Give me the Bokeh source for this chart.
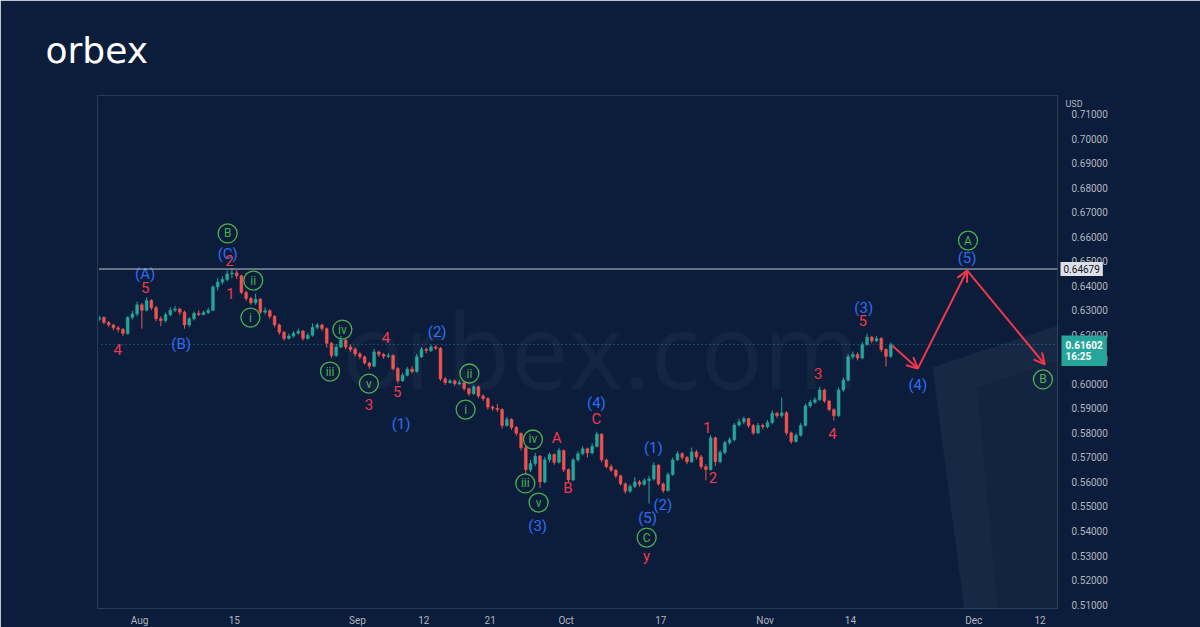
import numpy as np
from bokeh.plotting import figure
from bokeh.models import (Range1d, FixedTicker, Span, Label, Arrow, OpenHead,
                          PolyAnnotation, NumeralTickFormatter, ColumnDataSource)
from bokeh.core.properties import value
from bokeh.embed import file_html
from bokeh.resources import INLINE

# ---------------- data ----------------
BASE_DATE = "2022-08-01"        # business-day index 0
FIRST_BAR_DATE = "2022-07-25"   # first half-day bar
BARS_PER_DAY = 2
first_open = 0.6255

closes = [
    0.6262, 0.6270, 0.6250, 0.6240, 0.6228, 0.6222, 0.6205, 0.6270, 0.6285, 0.6322,
    0.6300, 0.6340, 0.6310, 0.6265, 0.6258, 0.6282, 0.6300, 0.6305, 0.6292, 0.6240,
    0.6265, 0.6287, 0.6282, 0.6290, 0.6300, 0.6395, 0.6415, 0.6425, 0.6448, 0.6452,
    0.6440, 0.6372, 0.6348, 0.6330, 0.6345, 0.6292, 0.6298, 0.6275, 0.6240, 0.6210,
    0.6185, 0.6195, 0.6206, 0.6215, 0.6185, 0.6198, 0.6230, 0.6240, 0.6225, 0.6165,
    0.6115, 0.6150, 0.6178, 0.6150, 0.6140, 0.6122, 0.6110, 0.6085, 0.6072, 0.6130,
    0.6120, 0.6112, 0.6115, 0.6062, 0.6012, 0.6035, 0.6060, 0.6050, 0.6110, 0.6140,
    0.6135, 0.6150, 0.6145, 0.6020, 0.6005, 0.6012, 0.6000, 0.6005, 0.5980, 0.5960,
    0.5988, 0.5950, 0.5940, 0.5905, 0.5900, 0.5895, 0.5830, 0.5855, 0.5822, 0.5798,
    0.5740, 0.5650, 0.5675, 0.5705, 0.5600, 0.5690, 0.5712, 0.5680, 0.5728, 0.5650,
    0.5608, 0.5690, 0.5715, 0.5735, 0.5718, 0.5745, 0.5795, 0.5690, 0.5662, 0.5648,
    0.5625, 0.5592, 0.5562, 0.5582, 0.5600, 0.5590, 0.5605, 0.5612, 0.5668, 0.5592,
    0.5565, 0.5630, 0.5690, 0.5715, 0.5700, 0.5682, 0.5722, 0.5702, 0.5662, 0.5650,
    0.5780, 0.5682, 0.5720, 0.5760, 0.5772, 0.5832, 0.5845, 0.5858, 0.5830, 0.5800,
    0.5830, 0.5825, 0.5842, 0.5880, 0.5870, 0.5882, 0.5800, 0.5765, 0.5790, 0.5830,
    0.5910, 0.5925, 0.5935, 0.5975, 0.5930, 0.5895, 0.5870, 0.5975, 0.6015, 0.6110,
    0.6120, 0.6105, 0.6160, 0.6190, 0.6175, 0.6185, 0.6140, 0.6112,
    0.6160,
]
highs = [
    0.6272, 0.6278, 0.6275, 0.6256, 0.6245, 0.6236, 0.6228, 0.6276, 0.6298, 0.6335,
    0.6330, 0.6352, 0.6345, 0.6318, 0.6275, 0.6290, 0.6312, 0.6318, 0.6310, 0.6298,
    0.6272, 0.6295, 0.6300, 0.6298, 0.6310, 0.6402, 0.6430, 0.6438, 0.6462, 0.6470,
    0.6462, 0.6445, 0.6380, 0.6355, 0.6368, 0.6350, 0.6312, 0.6305, 0.6280, 0.6246,
    0.6215, 0.6205, 0.6215, 0.6225, 0.6220, 0.6208, 0.6246, 0.6248, 0.6245, 0.6230,
    0.6170, 0.6162, 0.6195, 0.6182, 0.6160, 0.6148, 0.6130, 0.6115, 0.6090, 0.6142,
    0.6135, 0.6126, 0.6126, 0.6120, 0.6068, 0.6045, 0.6068, 0.6072, 0.6122, 0.6150,
    0.6148, 0.6160, 0.6158, 0.6150, 0.6028, 0.6020, 0.6018, 0.6015, 0.6010, 0.5985,
    0.5996, 0.5992, 0.5958, 0.5945, 0.5912, 0.5918, 0.5900, 0.5865, 0.5860, 0.5828,
    0.5802, 0.5745, 0.5690, 0.5718, 0.5710, 0.5702, 0.5720, 0.5716, 0.5740, 0.5732,
    0.5655, 0.5698, 0.5725, 0.5745, 0.5740, 0.5758, 0.5805, 0.5798, 0.5695, 0.5672,
    0.5652, 0.5630, 0.5598, 0.5590, 0.5620, 0.5608, 0.5615, 0.5625, 0.5680, 0.5672,
    0.5598, 0.5638, 0.5700, 0.5725, 0.5722, 0.5706, 0.5740, 0.5730, 0.5710, 0.5672,
    0.5790, 0.5785, 0.5730, 0.5768, 0.5782, 0.5840, 0.5858, 0.5866, 0.5862, 0.5836,
    0.5840, 0.5838, 0.5852, 0.5892, 0.5886, 0.5944, 0.5888, 0.5805, 0.5800, 0.5840,
    0.5920, 0.5935, 0.5945, 0.5988, 0.5980, 0.5935, 0.5900, 0.5985, 0.6025, 0.6122,
    0.6132, 0.6128, 0.6170, 0.6205, 0.6196, 0.6195, 0.6190, 0.6145,
    0.6168,
]
lows = [
    0.6250, 0.6255, 0.6242, 0.6232, 0.6218, 0.6210, 0.6195, 0.6200, 0.6262, 0.6275,
    0.6225, 0.6295, 0.6300, 0.6255, 0.6235, 0.6250, 0.6275, 0.6292, 0.6280, 0.6225,
    0.6232, 0.6258, 0.6276, 0.6280, 0.6285, 0.6296, 0.6380, 0.6405, 0.6418, 0.6430,
    0.6428, 0.6365, 0.6338, 0.6322, 0.6322, 0.6285, 0.6282, 0.6265, 0.6230, 0.6200,
    0.6176, 0.6180, 0.6188, 0.6200, 0.6176, 0.6180, 0.6192, 0.6222, 0.6215, 0.6148,
    0.6105, 0.6110, 0.6145, 0.6140, 0.6130, 0.6112, 0.6100, 0.6078, 0.6060, 0.6068,
    0.6110, 0.6102, 0.6105, 0.6055, 0.6002, 0.6008, 0.6030, 0.6042, 0.6045, 0.6105,
    0.6125, 0.6130, 0.6138, 0.6012, 0.5995, 0.6000, 0.5992, 0.5995, 0.5972, 0.5950,
    0.5955, 0.5942, 0.5930, 0.5895, 0.5890, 0.5885, 0.5818, 0.5825, 0.5812, 0.5788,
    0.5728, 0.5630, 0.5640, 0.5665, 0.5575, 0.5595, 0.5680, 0.5670, 0.5675, 0.5640,
    0.5595, 0.5602, 0.5682, 0.5708, 0.5700, 0.5712, 0.5740, 0.5680, 0.5655, 0.5640,
    0.5615, 0.5585, 0.5552, 0.5555, 0.5575, 0.5580, 0.5585, 0.5512, 0.5605, 0.5585,
    0.5555, 0.5560, 0.5625, 0.5685, 0.5690, 0.5672, 0.5678, 0.5692, 0.5652, 0.5607,
    0.5645, 0.5665, 0.5676, 0.5712, 0.5752, 0.5765, 0.5825, 0.5835, 0.5820, 0.5792,
    0.5795, 0.5815, 0.5818, 0.5835, 0.5860, 0.5862, 0.5790, 0.5755, 0.5760, 0.5785,
    0.5825, 0.5902, 0.5918, 0.5930, 0.5922, 0.5888, 0.5850, 0.5865, 0.5968, 0.6010,
    0.6100, 0.6095, 0.6100, 0.6155, 0.6165, 0.6170, 0.6130, 0.6070,
    0.6105,
]

tick_dates = ["2022-08-01", "2022-08-15", "2022-09-01", "2022-09-12", "2022-09-21",
              "2022-10-03", "2022-10-17", "2022-11-01", "2022-11-14", "2022-12-01",
              "2022-12-12"]
tick_labels = ["Aug", "15", "Sep", "12", "21", "Oct", "17", "Nov", "14", "Dec", "12"]
price_ticks = [0.51, 0.52, 0.53, 0.54, 0.55, 0.56, 0.57, 0.58, 0.59, 0.60,
               0.61, 0.62, 0.63, 0.64, 0.65, 0.66, 0.67, 0.68, 0.69, 0.70, 0.71]

resistance_price = 0.64679
last_price = 0.61602
last_time = "16:25"
currency = "USD"
logo_text = "orbex"

# wave labels (business-day index, price)
blue_labels = ["(A)", "(B)", "(C)", "(1)", "(2)", "(3)", "(4)", "(1)", "(5)", "(2)", "(3)", "(4)", "(5)"]
blue_days = [0.6, 4.4, 9.3, 27.6, 31.4, 42.0, 48.2, 54.2, 53.6, 55.2, 76.4, 82.1, 87.3]
blue_prices = [0.6446, 0.6164, 0.6528, 0.5838, 0.6213, 0.5422, 0.5920, 0.5740, 0.5451, 0.5504, 0.6311, 0.5997, 0.6511]

red_labels = ["4", "5", "2", "1", "3", "4", "5", "A", "B", "C", "y", "1", "2", "3", "4", "5"]
red_days = [-2.3, 0.6, 9.5, 9.6, 24.2, 26.0, 27.2, 44.0, 45.2, 48.2, 53.5, 59.9, 60.5, 71.6, 73.1, 76.3]
red_prices = [0.6140, 0.6393, 0.6503, 0.6368, 0.5916, 0.6189, 0.5969, 0.5781, 0.5577, 0.5855, 0.5300, 0.5822, 0.5618, 0.6042, 0.5797, 0.6258]

green_labels = ["B", "ii", "i", "iv", "iii", "v", "ii", "i", "iv", "iii", "v", "C", "A", "B"]
green_days = [9.3, 12.0, 11.7, 21.4, 20.1, 24.2, 34.8, 34.4, 41.5, 40.7, 42.1, 53.5, 87.4, 95.3]
green_prices = [0.6613, 0.6421, 0.6270, 0.6221, 0.6050, 0.6001, 0.6042, 0.5895, 0.5773, 0.5594, 0.5516, 0.5373, 0.6584, 0.6018]

# projected path
proj_days = [79.4, 82.1, 87.3, 95.5]
proj_prices = [0.6156, 0.6062, 0.6462, 0.6079]

# ---------------- style ----------------
BG = "#0b1d3a"
UP = "#26a69a"
DOWN = "#ef5350"
BLUE = "#2f6cf5"
RED = "#f0384a"
GREEN = "#4caf50"
AXIS_TXT = "#b2b5be"
AXIS_LINE = "#2a3a56"
FONT = "Roboto"

X0, X1 = -4.43, 96.84
Y0, Y1 = 0.50840, 0.71753


def px_x(px):
    return X0 + (px - 97) / 9.48


def px_y(py):
    return Y1 - (py - 95) / 2453.0


p = figure(width=1200, height=627, frame_width=960, frame_height=513,
           min_border_left=97, min_border_right=143, min_border_top=95, min_border_bottom=19,
           x_range=Range1d(X0, X1), y_range=Range1d(Y0, Y1),
           y_axis_location="right", output_backend="svg", toolbar_location=None)
p.background_fill_color = BG
p.border_fill_color = BG
p.outline_line_color = None
p.outline_line_alpha = 0
p.xgrid.visible = False
p.ygrid.visible = False

# background decorations
p.add_layout(PolyAnnotation(xs=[px_x(932), px_x(1200), px_x(1200), px_x(977), px_x(1000), px_x(968)],
                            ys=[px_y(367), px_y(278), px_y(312), px_y(387), px_y(640), px_y(640)],
                            fill_color="white", fill_alpha=0.05, line_alpha=0))
p.add_layout(PolyAnnotation(xs=[px_x(977), px_x(1200), px_x(1200), px_x(1072), px_x(1092), px_x(1000)],
                            ys=[px_y(387), px_y(312), px_y(403), px_y(448), px_y(640), px_y(640)],
                            fill_color="white", fill_alpha=0.03, line_alpha=0))

# watermark
p.add_layout(Label(x=px_x(600), y=px_y(348), text="orbex.com", text_align="center",
                   text_baseline="alphabetic", text_font="Open Sans",
                   text_font_size="104px", text_color="white", text_alpha=0.04))

# candles
n = len(closes)
start = int(np.busday_count(BASE_DATE, FIRST_BAR_DATE))
xs = start + (np.arange(n) + 0.5) / BARS_PER_DAY
opens = np.array([first_open] + closes[:-1])
c = np.array(closes)
colors = [UP if cc >= oo else DOWN for oo, cc in zip(opens, c)]
src = ColumnDataSource(dict(x=xs, h=highs, l=lows, top=np.maximum(opens, c),
                            bot=np.minimum(opens, c), col=colors))
p.segment(x0="x", y0="h", x1="x", y1="l", color="col", line_width=1, source=src)
p.vbar(x="x", width=0.3, top="top", bottom="bot", fill_color="col", line_color="col",
       line_width=0.5, source=src)

# horizontal levels
p.add_layout(Span(location=resistance_price, dimension="width", line_color="#c3c7d0", line_width=1))
p.add_layout(Span(location=last_price, dimension="width", line_color="#2f7f8c", line_width=1,
                  line_dash="1 3", line_alpha=0.9))

# axes
p.yaxis.ticker = FixedTicker(ticks=price_ticks)
p.yaxis.formatter = NumeralTickFormatter(format="0.00000")
p.yaxis.major_label_text_color = AXIS_TXT
p.yaxis.major_label_text_font = FONT
p.yaxis.major_label_text_font_size = "10px"
p.yaxis.major_tick_line_color = None
p.yaxis.minor_tick_line_color = None
p.yaxis.axis_line_color = AXIS_LINE
p.yaxis.major_label_standoff = 8

tick_pos = [int(np.busday_count(BASE_DATE, d)) for d in tick_dates]
p.xaxis.ticker = FixedTicker(ticks=tick_pos)
p.xaxis.major_label_overrides = {tp: lab for tp, lab in zip(tick_pos, tick_labels)}
p.xaxis.major_label_text_color = AXIS_TXT
p.xaxis.major_label_text_font = FONT
p.xaxis.major_label_text_font_size = "10px"
p.xaxis.major_tick_line_color = None
p.xaxis.minor_tick_line_color = None
p.xaxis.axis_line_color = AXIS_LINE
p.xaxis.major_label_standoff = 0

# wave labels
p.text(x="x", y="y", text="t", source=ColumnDataSource(dict(x=blue_days, y=blue_prices, t=blue_labels)),
       text_color=BLUE, text_font=value(FONT), text_font_size="15px",
       text_align="center", text_baseline="middle")
p.text(x="x", y="y", text="t", source=ColumnDataSource(dict(x=red_days, y=red_prices, t=red_labels)),
       text_color=RED, text_font=value(FONT), text_font_size="15px",
       text_align="center", text_baseline="middle")
gsrc = ColumnDataSource(dict(x=green_days, y=green_prices, t=green_labels))
p.scatter(x="x", y="y", source=gsrc, marker="circle", size=19, fill_alpha=0,
          line_color=GREEN, line_width=1.3)
p.text(x="x", y="y", text="t", source=gsrc, text_color=GREEN, text_font=value(FONT),
       text_font_size="12px", text_align="center", text_baseline="middle")

# projection arrows
for i in range(len(proj_days) - 1):
    p.add_layout(Arrow(x_start=proj_days[i], y_start=proj_prices[i],
                       x_end=proj_days[i + 1], y_end=proj_prices[i + 1],
                       line_color=RED, line_width=2,
                       end=OpenHead(size=11, line_color=RED, line_width=2)))

# price tags on the axis (placed in the side panel so that they are not clipped)
p.add_layout(Label(x=X1, y=resistance_price, text=f"{resistance_price:.5f}", x_offset=3,
                   text_align="left", text_baseline="middle", text_font=FONT,
                   text_font_size="10px", text_color="#131722",
                   background_fill_color="#dde0e8", padding=3), "right")
p.add_layout(Label(x=X1, y=last_price, text=f"{last_price:.5f}\n{last_time}", x_offset=4,
                   y_offset=9, text_align="left", text_baseline="top", text_font=FONT,
                   text_font_size="10px", text_color="white", text_font_style="bold",
                   text_line_height=1.05, background_fill_color=UP, padding=4), "right")
p.add_layout(Label(x=X1, y=Y1, text=currency, x_offset=8, y_offset=-8, text_align="left",
                   text_baseline="middle", text_font=FONT, text_font_size="9px",
                   text_color=AXIS_TXT), "above")

# logo
p.add_layout(Label(x=px_x(45), y=px_y(50), text=logo_text, text_align="left",
                   text_baseline="alphabetic", text_font="DejaVu Sans",
                   text_font_size="36px", text_color="white"), "above")

# hide the stray frame edge strokes
p.add_layout(Span(location=X0, dimension="height", line_color=BG, line_width=3))
p.add_layout(Span(location=Y1, dimension="width", line_color=BG, line_width=3))

open("out.html", "w").write(file_html(p, INLINE))
